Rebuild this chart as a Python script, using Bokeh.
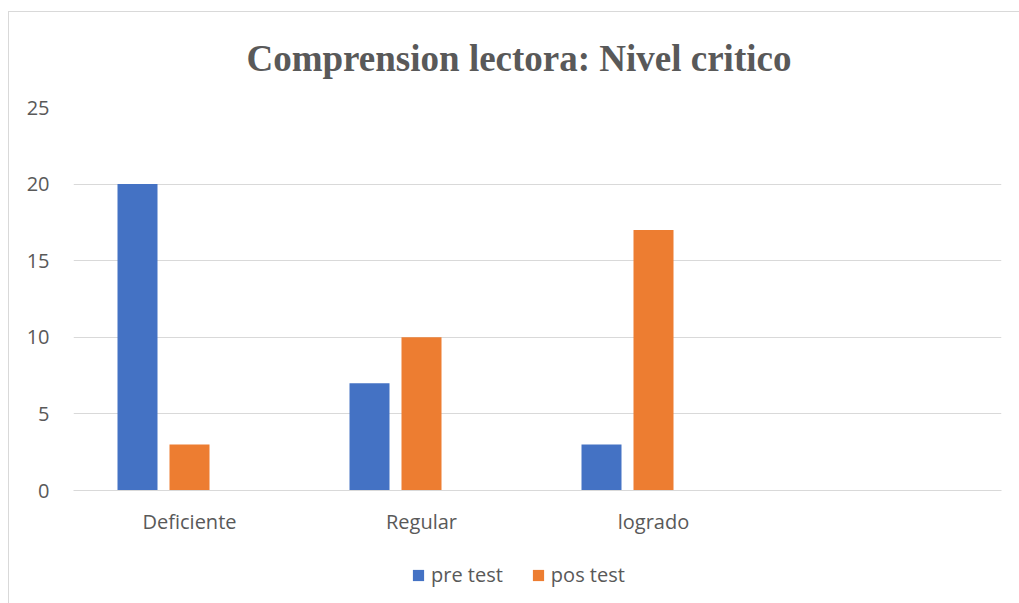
from bokeh.plotting import figure
from bokeh.layouts import column
from bokeh.models import ColumnDataSource, FactorRange, Legend, LegendItem
from bokeh.transform import dodge
from bokeh.embed import file_html
from bokeh.resources import INLINE

categories = ["Deficiente", "Regular", "logrado", " "]
pre_test = [20, 7, 3, 0]
pos_test = [3, 10, 17, 0]
series_names = ["pre test", "pos test"]
y_ticks = [0, 5, 10, 15, 20, 25]
title_text = "Comprension lectora: Nivel critico"
colors = ["#4472C4", "#ED7D31"]

src = ColumnDataSource(dict(cat=categories[:3], pre=pre_test[:3], pos=pos_test[:3]))

p = figure(
    x_range=FactorRange(factors=categories),
    y_range=(0, 25),
    width=1019, height=548,
    output_backend="svg", toolbar_location=None,
    min_border_left=73, min_border_right=18, min_border_top=107, min_border_bottom=58,
    title=title_text,
)
p.outline_line_color = None
p.background_fill_color = None
p.border_fill_color = None

p.title.align = "left"
p.title.offset = 173
p.title.text_font = "Liberation Serif"
p.title.text_font_style = "bold"
p.title.text_font_size = "37px"
p.title.text_color = "#595959"
p.title.standoff = 58

p.vbar(x=dodge("cat", -52 / 232, range=p.x_range), top="pre", width=40 / 232,
       source=src, color=colors[0], line_color=None)
p.vbar(x=dodge("cat", 0, range=p.x_range), top="pos", width=40 / 232,
       source=src, color=colors[1], line_color=None)

p.xgrid.grid_line_color = None
p.ygrid.grid_line_color = "#d9d9d9"
p.ygrid.grid_line_width = 1
p.yaxis.ticker = y_ticks
p.yaxis.axis_line_color = None
p.yaxis.major_tick_line_color = None
p.yaxis.minor_tick_line_color = None
p.yaxis.major_label_standoff = 18
p.xaxis.axis_line_color = "#d9d9d9"
p.xaxis.major_tick_line_color = None
p.xaxis.minor_tick_line_color = None
p.xaxis.major_label_standoff = 11
for ax in (p.xaxis, p.yaxis):
    ax.major_label_text_font = "Open Sans"
    ax.major_label_text_font_size = "20px"
    ax.major_label_text_color = "#595959"

# legend strip below the chart
lg = figure(
    x_range=FactorRange(factors=categories), y_range=(1000, 2000),
    width=1019, height=55, output_backend="svg", toolbar_location=None,
    x_axis_location=None, y_axis_location=None,
    min_border=0, min_border_left=0, min_border_right=0, min_border_top=0, min_border_bottom=0,
)
lg.outline_line_color = None
lg.background_fill_color = None
lg.border_fill_color = None
lg.grid.grid_line_color = None
lr1 = lg.vbar(x="cat", top="pre", width=0.1, source=src, color=colors[0], line_color=None)
lr2 = lg.vbar(x="cat", top="pos", width=0.1, source=src, color=colors[1], line_color=None)

legend = Legend(items=[LegendItem(label=series_names[0], renderers=[lr1]),
                       LegendItem(label=series_names[1], renderers=[lr2])],
                orientation="horizontal", location=(338, 15))
legend.border_line_color = None
legend.background_fill_alpha = 0
legend.margin = 0
legend.padding = 10
legend.glyph_width = 14
legend.glyph_height = 14
legend.label_standoff = 6
legend.spacing = 28
legend.label_text_font = "Open Sans"
legend.label_text_font_size = "20px"
legend.label_text_color = "#595959"
lg.add_layout(legend, "center")

layout = column(p, lg, spacing=0, styles={
    "background": "linear-gradient(#d9d9d9, #d9d9d9) 8px 11px / 1px 100% no-repeat, "
                  "linear-gradient(#d9d9d9, #d9d9d9) 8px 11px / 100% 1px no-repeat, white"})
open("out.html", "w").write(file_html(layout, INLINE))
